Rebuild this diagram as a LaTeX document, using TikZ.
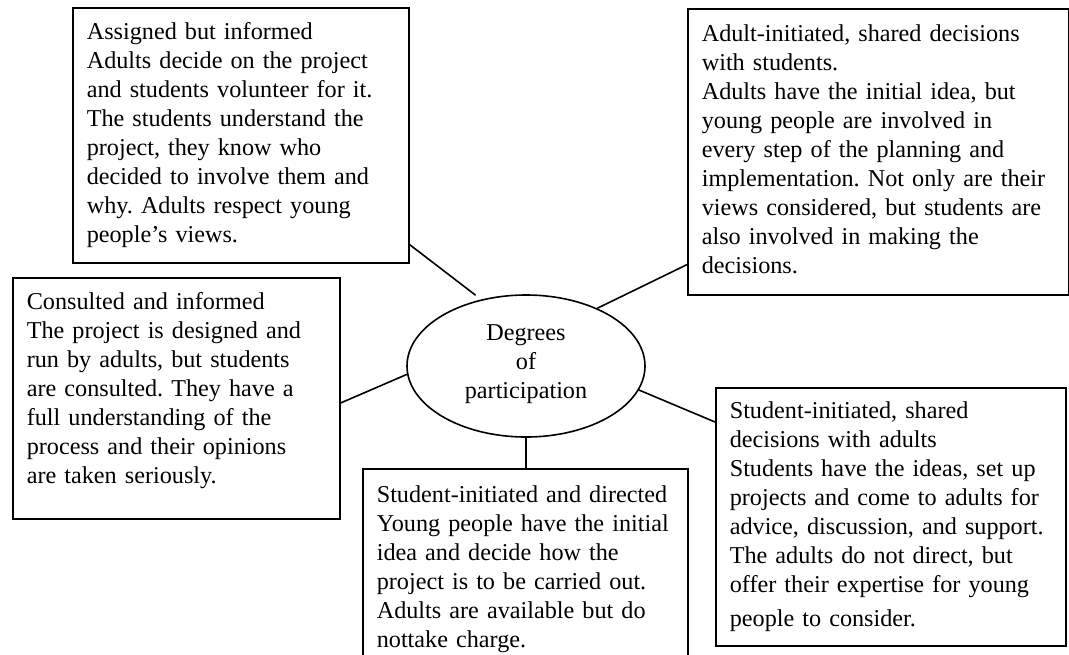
\documentclass[tikz,border=0pt]{standalone}
\usepackage{fontspec}
\setmainfont{Liberation Serif}
\usetikzlibrary{shapes.geometric}
\frenchspacing

\begin{document}
\begin{tikzpicture}[x=1pt, y=-1pt, line width=1.6pt, txt/.style={font=\fontsize{24.2}{29}\selectfont, execute at begin node=\strut, execute at end node=\strut}, box/.style={txt, draw, rectangle, anchor=north west, inner xsep=14pt, inner ysep=0pt, align=left}]
	\useasboundingbox (0,0) rectangle (1069,654);

	\node (deg) at (526,366) [txt, draw, ellipse, minimum width=238pt, minimum height=142pt, inner sep=0pt, align=center] {Degrees\\of\\participation};

	\node (assigned) at (72,7) [box, text width=308pt, minimum width=336pt, minimum height=255pt] {Assigned but informed\\Adults decide on the project\\and students volunteer for it.\\The students understand the\\project, they know who\\decided to involve them and\\why. Adults respect young\\people’s views.};
	\node (adult) at (687,8) [box, text width=353pt, minimum width=381pt, minimum height=286pt] {Adult-initiated, shared decisions\\with students.\\Adults have the initial idea, but\\young people are involved in\\every step of the planning and\\implementation. Not only are their\\views considered, but students are\\also involved in making the\\decisions.};
	\node (consulted) at (12,277) [box, text width=299pt, minimum width=327pt, minimum height=241pt] {Consulted and informed\\The project is designed and\\run by adults, but students\\are consulted. They have a\\full understanding of the\\process and their opinions\\are taken seriously.\rule[-24pt]{0pt}{0pt}};
	\node (directed) at (362,468) [box, text width=297pt, minimum width=325pt, minimum height=200pt] {Student-initiated and directed\\Young people have the initial\\idea and decide how the\\project is to be carried out.\\Adults are available but do\\nottake charge.};
	\node (shared) at (715,387) [box, text width=322pt, minimum width=350pt, minimum height=258pt] {Student-initiated, shared\\decisions with adults\\Students have the ideas, set up\\projects and come to adults for\\advice, discussion, and support.\\The adults do not direct, but\\offer their expertise for young\\[5pt]people to consider.};

	% spokes from the ellipse
	\draw [shorten >=7pt] (assigned.south east) ++(0,-19) -- (deg.124);
	\draw (adult.south west) ++(0,-31) -- (deg.39);
	\draw (consulted.north east) ++(0,126) -- (deg.184);
	\draw (deg.south) -- (deg.south |- directed.north);
	\draw (shared.north west) ++(0,35) -- (deg.-12);
\end{tikzpicture}
\end{document}
